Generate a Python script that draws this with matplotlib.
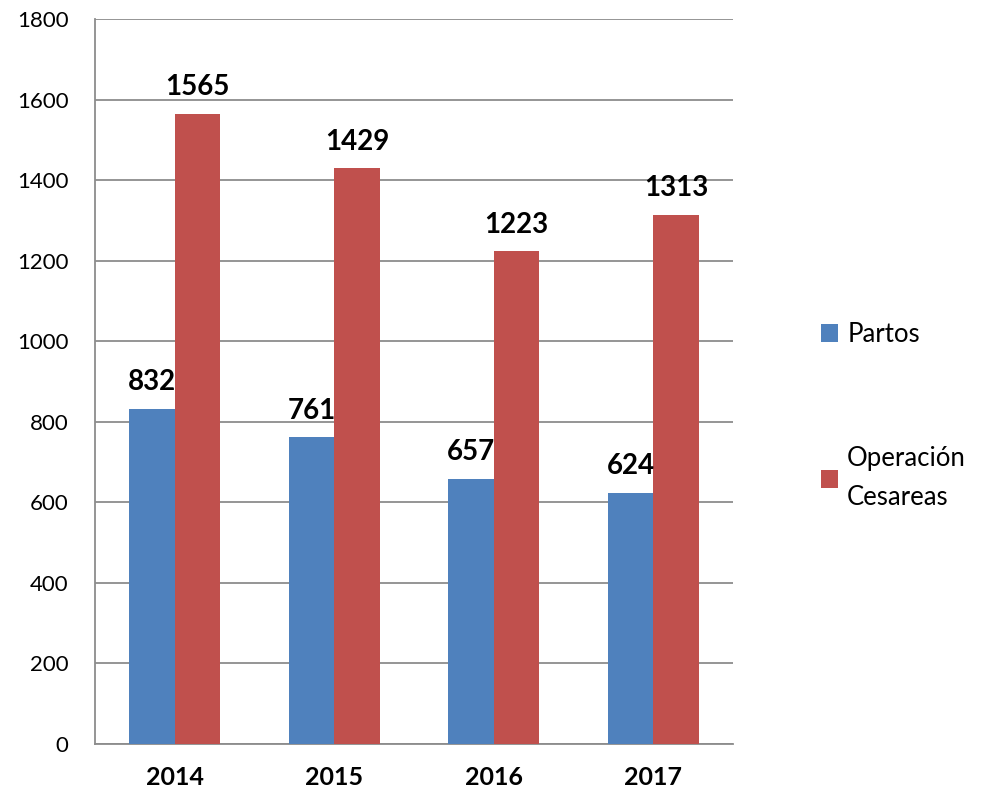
import matplotlib
matplotlib.use("Agg")
import matplotlib.pyplot as plt
import numpy as np

years = ["2014", "2015", "2016", "2017"]
partos = [832, 761, 657, 624]
cesareas = [1565, 1429, 1223, 1313]
series_names = ["Partos", "Operación\nCesareas"]
yticks = [0, 200, 400, 600, 800, 1000, 1200, 1400, 1600, 1800]

plt.rcParams['font.family'] = ['Lato', 'DejaVu Sans']

fig = plt.figure(figsize=(9.97, 7.93), dpi=100)
ax = fig.add_axes([0.0953, 0.0618, 0.6400, 0.9142])

x = np.arange(len(years))
w = 0.285
blue = "#4F81BD"
red = "#C0504D"
b1 = ax.bar(x - w/2, partos, w, color=blue, zorder=3, label=series_names[0])
b2 = ax.bar(x + w/2, cesareas, w, color=red, zorder=3, label=series_names[1])

for bars, vals in ((b1, partos), (b2, cesareas)):
    for r, v in zip(bars, vals):
        ax.annotate(str(v), (r.get_x() + r.get_width()/2, v), xytext=(0, 10),
                    textcoords="offset points", ha="center", va="bottom",
                    fontsize=20, fontweight="bold", color="black", zorder=4)

ax.set_xlim(-0.5, len(years) - 0.5)
ax.set_ylim(0, 1800)
ax.set_yticks(yticks)
ax.set_yticklabels([str(t) for t in yticks], fontsize=16)
ax.set_xticks(x)
ax.set_xticklabels(years, fontsize=18, fontweight="bold")
ax.tick_params(axis="y", length=0, pad=19)
ax.tick_params(axis="x", length=0, pad=16)
ax.yaxis.grid(True, color="#8C8C8C", linewidth=1.3, zorder=0)
for s in ["top", "right"]:
    ax.spines[s].set_visible(False)
for s in ["left", "bottom"]:
    ax.spines[s].set_color("#8C8C8C")
    ax.spines[s].set_linewidth(1.3)

leg = ax.legend(loc="center left", bbox_to_anchor=(1.101, 0.452), frameon=False,
                fontsize=18.5, handlelength=0.68, handleheight=0.68, handletextpad=0.35,
                labelspacing=3.85)
leg.get_texts()[1].set_linespacing(1.72)

fig.savefig("out.png", dpi=100)
